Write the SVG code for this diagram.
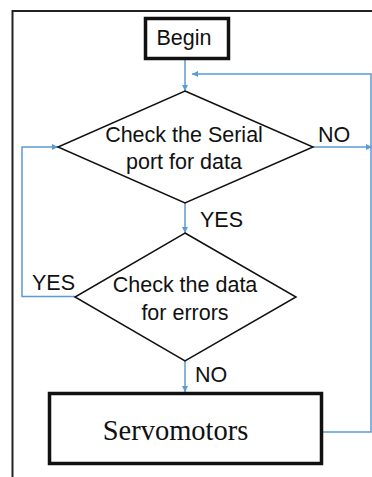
<svg xmlns="http://www.w3.org/2000/svg" width="372" height="477" viewBox="0 0 372 477">
<defs>
<marker id="ah" viewBox="0 0 10 10" refX="10" refY="5" markerWidth="6" markerHeight="6" markerUnits="userSpaceOnUse" orient="auto">
<path d="M0,0 L10,5 L0,10 Z" fill="#5B9BD5"/>
</marker>
<style>
.sans{font-family:"Liberation Sans",Arial,sans-serif;font-size:21.5px;fill:#111;}
.serif{font-family:"Liberation Serif","Times New Roman",serif;font-size:28.5px;fill:#111;}
.box{fill:#fff;stroke:#111;}
.dia{fill:#fff;stroke:#111;stroke-width:1.5;}
.conn{fill:none;stroke:#5B9BD5;stroke-width:1.5;}
</style>
</defs>
<rect width="372" height="477" fill="#fff"/>
<path d="M12.5 477 V11 H372" fill="none" stroke="#222" stroke-width="2"/>
<g id="connectors">
<path class="conn" d="M185 60 V91" marker-end="url(#ah)"/>
<path class="conn" d="M185 203 V233" marker-end="url(#ah)"/>
<path class="conn" d="M185 361 V392" marker-end="url(#ah)"/>
<path class="conn" d="M313 147 H372" marker-end="url(#ah)"/>
<path class="conn" d="M75 296.5 H22 V147 H58" marker-end="url(#ah)"/>
<path class="conn" d="M323 432 H371 V74 H192" marker-end="url(#ah)"/>
<text class="sans" x="200" y="227">YES</text>
<text class="sans" x="32" y="290">YES</text>
<text class="sans" x="318" y="142">NO</text>
<text class="sans" x="195" y="382">NO</text>
</g>
<g id="begin">
<rect class="box" x="145.5" y="18.5" width="83" height="40" stroke-width="3.5"/>
<text class="sans" x="184" y="45" text-anchor="middle">Begin</text>
</g>
<g id="check-serial">
<polygon class="dia" points="185,91 313,147 185,203 58,147"/>
<text class="sans" x="184" y="142" text-anchor="middle">Check the Serial</text>
<text class="sans" x="184" y="169" text-anchor="middle">port for data</text>
</g>
<g id="check-errors">
<polygon class="dia" points="185,233 296,297 185,361 75,297"/>
<text class="sans" x="185" y="292" text-anchor="middle">Check the data</text>
<text class="sans" x="185" y="320" text-anchor="middle">for errors</text>
</g>
<g id="servomotors">
<rect class="box" x="49.5" y="393.5" width="272" height="70" stroke-width="3.5"/>
<text class="serif" x="175.5" y="440" text-anchor="middle">Servomotors</text>
</g>
</svg>
